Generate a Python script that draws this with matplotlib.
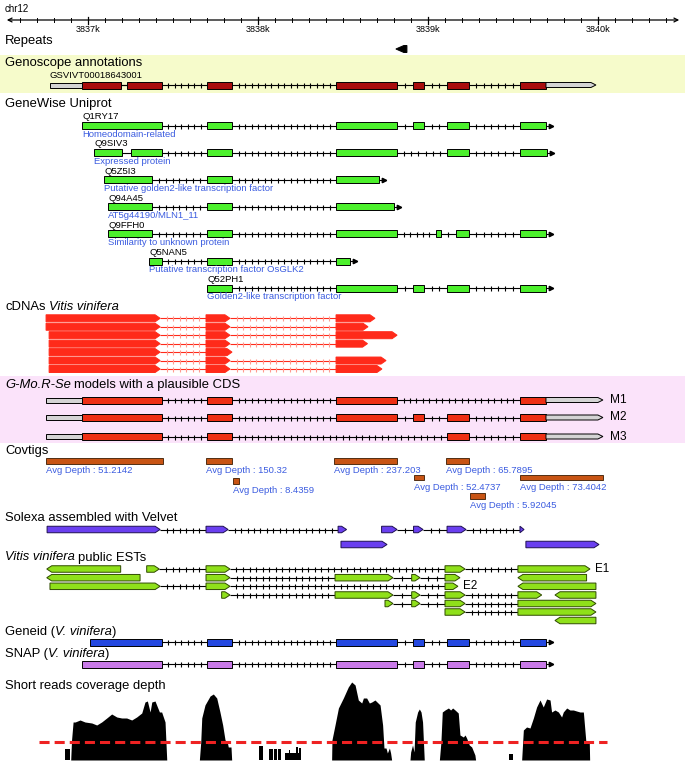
import numpy as np
import matplotlib
matplotlib.use("Agg")
import matplotlib.pyplot as plt
from matplotlib.patches import Polygon, Rectangle
from matplotlib.transforms import blended_transform_factory

plt.rcParams['font.family'] = ['Liberation Sans', 'DejaVu Sans']

# ---------------- data (genomic coordinates, bp) ----------------
chrom = "chr12"
view_start, view_end = 3836482, 3840512
ruler_major = [3837000, 3838000, 3839000, 3840000]
ruler_labels = ["3837k", "3838k", "3839k", "3840k"]

repeat = (3838811, 3838876)

geno_id = "GSVIVT00018643001"
geno_utr5 = (3836776, 3836965)
geno_cds = [(3836965, 3837194), (3837229, 3837435), (3837700, 3837847), (3838459, 3838818),
            (3838912, 3838976), (3839112, 3839241), (3839541, 3839694)]
geno_utr3 = (3839694, 3839988)

gw_ids = ["Q1RY17", "Q9SIV3", "Q5Z5I3", "Q94A45", "Q9FFH0", "Q5NAN5", "Q52PH1"]
gw_desc = ["Homeodomain-related", "Expressed protein", "Putative golden2-like transcription factor",
           "AT5g44190/MLN1_11", "Similarity to unknown protein", "Putative transcription factor OsGLK2",
           "Golden2-like transcription factor"]
gw_exons = [
    [(3836965, 3837435), (3837700, 3837847), (3838459, 3838818), (3838912, 3838976), (3839112, 3839241), (3839541, 3839694)],
    [(3837037, 3837197), (3837251, 3837435), (3837700, 3837847), (3838459, 3838818), (3839112, 3839241), (3839541, 3839700)],
    [(3837094, 3837376), (3837700, 3837847), (3838459, 3838712)],
    [(3837118, 3837376), (3837700, 3837847), (3838459, 3838800)],
    [(3837118, 3837376), (3837700, 3837847), (3838459, 3838818), (3839047, 3839076), (3839165, 3839241), (3839541, 3839694)],
    [(3837359, 3837435), (3837700, 3837847), (3838459, 3838541)],
    [(3837700, 3837847), (3838459, 3838818), (3838912, 3838976), (3839112, 3839241), (3839541, 3839694)],
]

cdna_exons = [
    [(3836753, 3837424), (3837694, 3837835), (3838459, 3838688)],
    [(3836753, 3837424), (3837694, 3837835), (3838459, 3838647)],
    [(3836771, 3837424), (3837694, 3837835), (3838459, 3838818)],
    [(3836771, 3837424), (3837694, 3837835), (3838459, 3838644)],
    [(3836771, 3837424), (3837694, 3837847)],
    [(3836771, 3837424), (3837694, 3837835), (3838459, 3838753)],
    [(3836771, 3837424), (3837694, 3837835), (3838459, 3838729)],
]

model_names = ["M1", "M2", "M3"]
model_utr5 = (3836753, 3836965)
model_utr3 = (3839694, 3840029)
model_cds = [
    [(3836965, 3837435), (3837700, 3837847), (3838459, 3838818), (3839541, 3839694)],
    [(3836965, 3837435), (3837700, 3837847), (3838459, 3838818), (3838912, 3838976), (3839112, 3839241), (3839541, 3839694)],
    [(3836965, 3837435), (3837700, 3837847), (3839112, 3839241), (3839541, 3839694)],
]

covtig_start = [3836753, 3837694, 3837850, 3838447, 3838915, 3839106, 3839247, 3839541]
covtig_end = [3837441, 3837847, 3837891, 3838818, 3838976, 3839241, 3839338, 3840029]
covtig_depth = [51.2142, 150.32, 8.4359, 237.203, 52.4737, 65.7895, 5.92045, 73.4042]

solexa_exons = [
    [(3836759, 3837424), (3837694, 3837824), (3838471, 3838521)],
    [(3838727, 3838818), (3838915, 3838971), (3839112, 3839224), (3839541, 3839565)],
    [(3838488, 3838759)],
    [(3839576, 3840006)],
]

est_exons = [
    [(3836757, 3837192)],
    [(3837345, 3837419), (3837694, 3837835), (3839100, 3839218), (3839529, 3839953)],
    [(3836757, 3837306)],
    [(3837694, 3837835), (3838453, 3838794), (3838904, 3838953), (3839100, 3839188)],
    [(3839529, 3839933)],
    [(3836776, 3837424), (3837694, 3837835), (3839100, 3839176)],
    [(3839529, 3839988)],
    [(3837786, 3837835), (3838453, 3838794), (3838904, 3838953), (3839100, 3839218), (3839529, 3839669)],
    [(3839747, 3839988)],
    [(3838747, 3838794), (3838904, 3838953), (3839100, 3839218), (3839529, 3839988)],
    [(3839100, 3839218), (3839529, 3839988)],
    [(3839747, 3839988)],
]
est_strand = [-1, 1, -1, 1, -1, 1, -1, 1, -1, 1, 1, -1]
est_names = ["", "E1", "", "", "", "E2", "", "", "", "", "", ""]

geneid_exons = [(3837012, 3837435), (3837700, 3837847), (3838459, 3838818), (3838912, 3838976), (3839112, 3839241), (3839541, 3839694)]
snap_exons = [(3836965, 3837435), (3837700, 3837847), (3838459, 3838818), (3838912, 3838976), (3839112, 3839241), (3839541, 3839694)]

# coverage profile pieces (position bp, depth)
cov_pos = [
    [3836898, 3836903, 3836912, 3836924, 3836953, 3836982, 3837022, 3837051, 3837080, 3837110, 3837139, 3837169, 3837198,
     3837227, 3837257, 3837286, 3837316, 3837335, 3837349, 3837365, 3837375, 3837394, 3837408, 3837420, 3837433, 3837453, 3837463],
    [3837655, 3837663, 3837669, 3837688, 3837718, 3837737, 3837757, 3837776, 3837792, 3837806, 3837819, 3837825, 3837841, 3837845],
    [3838433, 3838435, 3838453, 3838473, 3838502, 3838531, 3838551, 3838571, 3838590, 3838610, 3838620, 3838639, 3838655,
     3838669, 3838688, 3838718, 3838733, 3838741, 3838753, 3838761, 3838773, 3838780, 3838786],
    [3838894, 3838898, 3838909, 3838918, 3838925, 3838939, 3838949, 3838959, 3838968, 3838978],
    [3839067, 3839076, 3839084, 3839100, 3839120, 3839133, 3839145, 3839159, 3839178, 3839188, 3839208, 3839218, 3839227,
     3839243, 3839257, 3839276, 3839280],
    [3839551, 3839561, 3839580, 3839600, 3839620, 3839639, 3839659, 3839678, 3839698, 3839718, 3839727, 3839747, 3839767,
     3839786, 3839796, 3839816, 3839835, 3839855, 3839874, 3839894, 3839914, 3839929, 3839949, 3839951],
]
cov_depth = [
    [0, 80, 152, 152, 160, 152, 148, 140, 152, 168, 184, 172, 168, 168, 160, 172, 188, 232, 236, 192, 232, 236, 212, 192, 192, 152, 0],
    [0, 72, 168, 220, 256, 264, 248, 192, 140, 80, 72, 52, 52, 0],
    [0, 80, 140, 208, 248, 292, 312, 300, 240, 228, 248, 248, 228, 232, 240, 220, 140, 48, 48, 28, 48, 28, 0],
    [0, 32, 60, 32, 152, 192, 204, 192, 152, 0],
    [0, 72, 192, 200, 208, 200, 208, 200, 188, 100, 92, 100, 88, 60, 52, 20, 0],
    [0, 120, 132, 128, 168, 212, 240, 212, 244, 240, 192, 200, 192, 172, 192, 208, 200, 200, 196, 192, 192, 72, 68, 0],
]
cov_blocks = [(3836865, 3836894, 44), (3838008, 3838031, 56), (3838066, 3838090, 44), (3838096, 3838114, 44),
              (3838120, 3838133, 44), (3838159, 3838180, 28), (3838180, 3838190, 40), (3838190, 3838225, 28),
              (3838225, 3838234, 52), (3838234, 3838242, 28), (3838242, 3838251, 48), (3839476, 3839502, 24)]
cov_mean = 72
cov_mean_span = (3836712, 3840053)

# ---------------- figure ----------------
W, H = 685, 775
fig = plt.figure(figsize=(W / 100, H / 100), dpi=100)
ax = fig.add_axes([0, 0, 1, 1])
ax.set_xlim(view_start, view_end)
ax.set_ylim(H, 0)
ax.axis('off')
BPP = (view_end - view_start) / W   # bp per pixel
TIP = 5 * BPP
TICK_SP = 6.4 * BPP
lblx = blended_transform_factory(ax.transAxes, ax.transData)

BLUE_TXT = '#3b5ce0'
SEC = 9.4   # section label size


def label(y, parts, size=SEC):
    prev = None
    for s, style, gap in parts:
        if prev is None:
            prev = ax.text(5 / W, y, s, transform=lblx, fontsize=size, style=style, va='center', ha='left')
        else:
            prev = ax.annotate(s, xy=(1, 0), xycoords=prev, xytext=(gap, 0), textcoords='offset points',
                               fontsize=size, style=style, va='bottom', ha='left')


def exon(a, b, y, h, fc, ec='black', point=0, lw=0.7, tip=None):
    t = min(tip or TIP, b - a)
    if point > 0:
        v = [(a, y - h / 2), (b - t, y - h / 2), (b, y), (b - t, y + h / 2), (a, y + h / 2)]
    elif point < 0:
        v = [(a, y), (a + t, y - h / 2), (b, y - h / 2), (b, y + h / 2), (a + t, y + h / 2)]
    else:
        v = [(a, y - h / 2), (b, y - h / 2), (b, y + h / 2), (a, y + h / 2)]
    ax.add_patch(Polygon(v, closed=True, fc=fc, ec=ec, lw=lw, zorder=3))


def intron(a, b, y, color='black', tick_color=None):
    ax.plot([a, b], [y, y], color=color, lw=0.8, zorder=2, solid_capstyle='butt')
    n = int((b - a) / TICK_SP)
    if n >= 2:
        xs = a + np.arange(1, n) * (b - a) / n
        ax.plot(xs, [y] * len(xs), ls='none', marker='|', ms=3.6, mew=0.8,
                color=tick_color or color, zorder=2)


def transcript(exons, y, h, fc, ec='black', point=0, tail=False, line='black', tick=None):
    for (a1, b1), (a2, b2) in zip(exons[:-1], exons[1:]):
        intron(b1, a2, y, line, tick)
    for a, b in exons:
        exon(a, b, y, h, fc, ec, point)
    if tail:
        end = exons[-1][1]
        ax.plot([end, end + 5 * BPP], [y, y], color='black', lw=0.8, zorder=2)
        ax.plot([end + 5 * BPP], [y], marker='>', ms=3.2, color='black', zorder=2)


# ruler
ax.text(5 / W, 9, chrom, transform=lblx, fontsize=7, va='center')
ax.annotate('', xy=(view_start + 4 * BPP, 20), xytext=(view_end - 3 * BPP, 20),
            arrowprops=dict(arrowstyle='<->', lw=0.9, color='black', mutation_scale=7))
for p in np.arange(3836600, 3840500, 100):
    ax.plot([p, p], [18, 22], color='black', lw=0.7)
for p, s in zip(ruler_major, ruler_labels):
    ax.plot([p, p], [16.5, 23.5], color='black', lw=0.9)
    ax.text(p, 30, s, fontsize=6.6, ha='center', va='center')

# repeats
label(41, [("Repeats", 'normal', 0)])
exon(repeat[0], repeat[1], 49, 7, 'black', 'black', point=-1, tip=8 * BPP)

# genoscope
ax.add_patch(Rectangle((view_start, 55), view_end - view_start, 38, fc='#f6fbcb', ec='none', zorder=0))
label(63, [("Genoscope annotations", 'normal', 0)])
ax.text(geno_utr5[0], 75, geno_id, fontsize=6.8, va='center')
intron(geno_cds[0][1], geno_cds[1][0], 85)
transcript(geno_cds, 85, 7, '#a80c0c')
exon(geno_utr5[0], geno_utr5[1], 85, 5, '#d4d4d4')
exon(geno_utr3[0], geno_utr3[1], 85, 5, '#d4d4d4', point=1)

# genewise
label(104, [("GeneWise Uniprot", 'normal', 0)])
for i in range(len(gw_ids)):
    y = 125.5 + 27.1 * i
    transcript(gw_exons[i], y, 7, '#4cf02c', tail=True)
    ax.text(gw_exons[i][0][0], y - 8.6, gw_ids[i], fontsize=6.8, va='center')
    ax.text(gw_exons[i][0][0], y + 8.6, gw_desc[i], fontsize=6.8, va='center', color=BLUE_TXT)

# cDNAs
label(307, [("cDNAs", 'normal', 0), ("Vitis vinifera", 'italic', 2.6)])
for i, ex in enumerate(cdna_exons):
    transcript(ex, 318.3 + 8.45 * i, 7, '#ff2a1a', ec='#ff2a1a', point=1, line='#ff2a1a', tick='#ff9a90')

# G-Mo.R-Se models
ax.add_patch(Rectangle((view_start, 376), view_end - view_start, 67, fc='#fbe3fa', ec='none', zorder=0))
label(385, [("G-Mo.R-Se", 'italic', 0), ("models with a plausible CDS", 'normal', 2.6)])
for i, name in enumerate(model_names):
    y = [400, 417.5, 436.5][i]
    intron(model_utr5[1], model_cds[i][0][0], y)
    transcript(model_cds[i], y, 7, '#ee2f14')
    exon(model_utr5[0], model_utr5[1], y, 5, '#d4d4d4')
    exon(model_utr3[0], model_utr3[1], y, 5, '#d4d4d4', point=1)
    ax.annotate(name, xy=(model_utr3[1], y), xytext=(5, 0), textcoords='offset points',
                fontsize=8.6, va='center')

# covtigs
label(451, [("Covtigs", 'normal', 0)])
covtig_y = [461, 461, 481, 461, 477.5, 461, 496, 477.5]
for s, e, d, y in zip(covtig_start, covtig_end, covtig_depth, covtig_y):
    ax.add_patch(Rectangle((s, y - 2.8), e - s, 5.6, fc='#c85414', ec='#3a1a00', lw=0.6, zorder=3))
    ax.text(s, y + 9.5, f"Avg Depth : {d}", fontsize=6.8, color=BLUE_TXT, va='center')

# solexa
label(518, [("Solexa assembled with Velvet", 'normal', 0)])
for ex, y in zip(solexa_exons, [529.5, 529.5, 544.5, 544.5]):
    transcript(ex, y, 6.5, '#6a3ff0', ec='#1e1050', point=1)

# ESTs
label(557.5, [("Vitis vinifera", 'italic', 0), ("public ESTs", 'normal', 2.6)])
est_y = [569, 569, 577.7, 577.7, 577.7, 586.3, 586.3, 595, 595, 603.5, 612, 620.5]
for ex, st, nm, y in zip(est_exons, est_strand, est_names, est_y):
    transcript(ex, y, 6.5, '#8fe01a', ec='#2f4a00', point=st)
    if nm:
        ax.annotate(nm, xy=(ex[-1][1], y), xytext=(3.5, 0), textcoords='offset points', fontsize=8.4, va='center')

# geneid / snap
label(632, [("Geneid (", 'normal', 0), ("V. vinifera", 'italic', 0), (")", 'normal', 0)])
transcript(geneid_exons, 642, 7, '#2448e0', tail=True)
label(654, [("SNAP (", 'normal', 0), ("V. vinifera", 'italic', 0), (")", 'normal', 0)])
transcript(snap_exons, 664, 7, '#c97ae8', tail=True)

# coverage
label(686, [("Short reads coverage depth", 'normal', 0)])
axc = fig.add_axes([0, (H - 760) / H, 1, 80 / H])
axc.set_xlim(view_start, view_end)
axc.set_ylim(0, 320)
axc.axis('off')
for p, d in zip(cov_pos, cov_depth):
    axc.fill_between(p, d, 0, color='black', lw=0)
for s, e, d in cov_blocks:
    axc.fill_between([s, e], [d, d], 0, color='black', lw=0)
axc.plot(cov_mean_span, [cov_mean, cov_mean], color='#ee2222', lw=2.2, dashes=(3.3, 1.65))

fig.savefig("out.png", dpi=100)
